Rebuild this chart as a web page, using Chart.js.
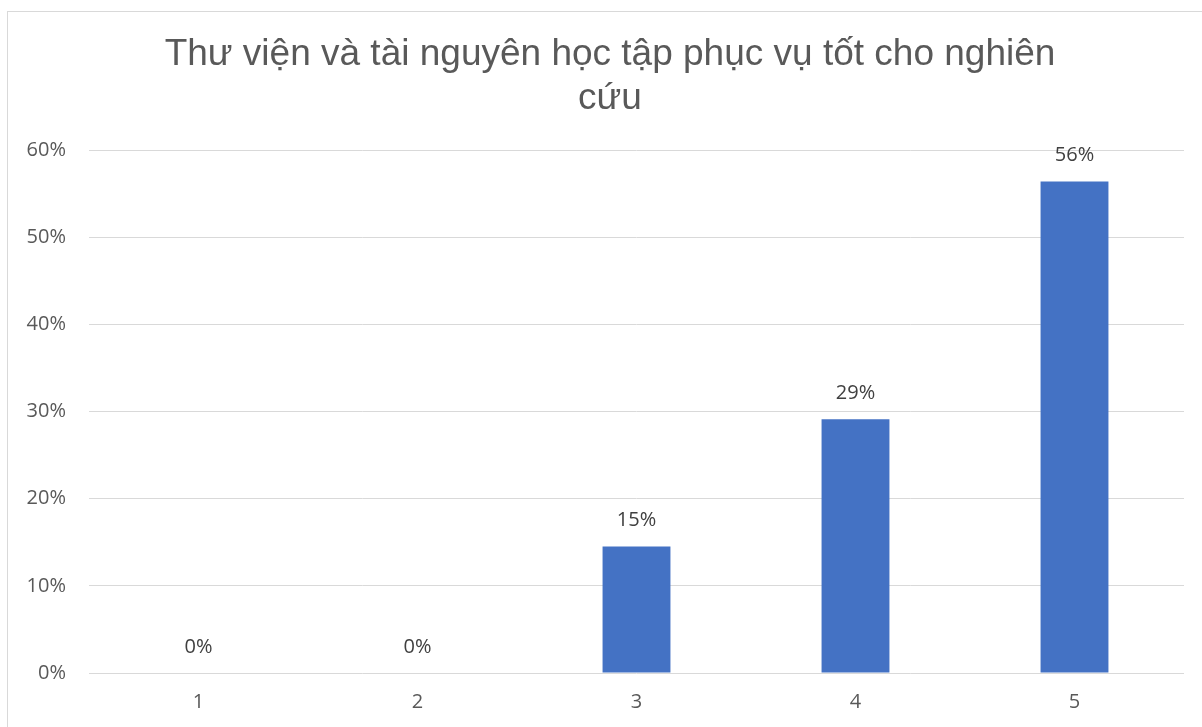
<!DOCTYPE html>
<html>
<head>
<meta charset="utf-8">
<script src="https://cdn.jsdelivr.net/npm/chart.js@4"></script>
<style>
  html, body { margin: 0; padding: 0; background: #fff; overflow: hidden; }
  #frame { position: absolute; left: 7px; top: 11px; width: 1300px; height: 800px; border: 1px solid #d9d9d9; }
  #wrap { position: absolute; left: 0; top: 0; width: 1202px; height: 727px; }
</style>
</head>
<body>
<div id="frame"></div>
<div id="wrap"><canvas id="myChart"></canvas></div>
<script>
// chart data
const categories = ["1", "2", "3", "4", "5"];
const percentValues = [0, 0, 14.5, 29.1, 56.4];
const yTicks = [0, 10, 20, 30, 40, 50, 60];
const titleLines = ["Thư viện và tài nguyên học tập phục vụ tốt cho nghiên", "cứu"];

// value labels above the bars (no datalabels plugin offline)
const barLabels = {
  id: "barLabels",
  afterDatasetsDraw(chart) {
    const ctx = chart.ctx;
    const meta = chart.getDatasetMeta(0);
    ctx.save();
    ctx.font = "20px 'Open Sans'";
    ctx.fillStyle = "#404040";
    ctx.textAlign = "center";
    ctx.textBaseline = "middle";
    meta.data.forEach((bar, i) => {
      ctx.fillText(Math.round(percentValues[i]) + "%", bar.x, bar.y - 26);
    });
    ctx.restore();
  },
};

const ctx = document.getElementById("myChart");
new Chart(ctx, {
  type: "bar",
  data: {
    labels: categories,
    datasets: [
      {
        data: percentValues,
        backgroundColor: "#4472C4",
        categoryPercentage: 1,
        barPercentage: 0.31,
      },
    ],
  },
  options: {
    responsive: true,
    maintainAspectRatio: false,
    animation: false,
    layout: { padding: { left: 18, right: 0, top: 0, bottom: 0 } },
    scales: {
      x: {
        grid: { display: false, drawTicks: false },
        border: { display: false },
        ticks: { color: "#595959", font: { family: "'Open Sans'", size: 20 }, padding: 17 },
        afterFit: (scale) => { scale.height = 54; },
      },
      y: {
        min: 0,
        max: 60,
        afterBuildTicks: (scale) => { scale.ticks = yTicks.map((v) => ({ value: v })); },
        grid: { color: "#d9d9d9", lineWidth: 1, drawTicks: false },
        border: { display: false },
        ticks: {
          color: "#595959",
          font: { family: "'Open Sans'", size: 20 },
          padding: 23,
          callback: function (value) {
            return value + "%";
          },
        },
        afterFit: (scale) => { scale.width = 71; },
      },
      // empty right-hand spacer so the title centres like the original
      spacer: {
        position: "right",
        min: 0,
        max: 60,
        grid: { display: false, drawTicks: false },
        border: { display: false },
        ticks: { display: false },
        afterFit: (scale) => { scale.width = 18; },
      },
    },
    plugins: {
      legend: { display: false },
      tooltip: { enabled: false },
      title: {
        display: true,
        text: titleLines,
        color: "#595959",
        font: { family: "'Liberation Sans'", size: 37, weight: "normal", lineHeight: 1.19 },
        padding: { top: 33, bottom: 29 },
      },
    },
  },
  plugins: [barLabels],
});
</script>
</body>
</html>
